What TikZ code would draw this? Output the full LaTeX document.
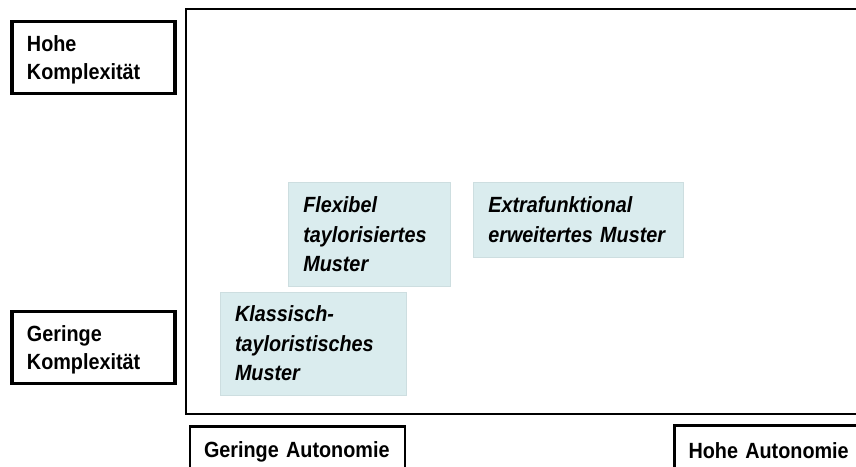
\documentclass[tikz,border=0pt]{standalone}
\usepackage{fontspec}
\setmainfont{Liberation Sans}[FakeStretch=0.9]
\definecolor{musterfill}{RGB}{218,236,238}
\newcommand\engraum{\spaceskip 4.5pt\relax}
\begin{document}
\begin{tikzpicture}[x=1pt,y=-1pt]

    \tikzset{
      kompl/.style={
        draw,
        line width=3.5pt,
        anchor=north west,
        outer sep=0pt,
        inner xsep=15pt,
        text width=133pt,
        minimum height=72pt,
        align=left,
        execute at begin node={\rule{0pt}{21pt}},
        font={\fontsize{22}{28}\selectfont\bfseries\engraum},
      },
      auto/.style={
        draw,
        line width=2.5pt,
        anchor=north west,
        outer sep=0pt,
        inner xsep=14pt,
        minimum height=50pt,
        align=left,
        font={\fontsize{22}{28}\selectfont\bfseries\engraum},
      },
      muster/.style={
        fill=musterfill,
        draw=musterfill!90!black!60!musterfill,
        anchor=north west,
        outer sep=0pt,
        inner xsep=15pt,
        align=left,
        font={\fontsize{22}{29.5}\selectfont\bfseries\itshape\engraum},
      },
    }
    \useasboundingbox (0,0) rectangle (856,466);
    \clip (0,0) rectangle (856,466);
	\draw[line width=2pt] (880,9) -- (186,9) -- (186,413.5) -- (880,413.5);
	\node[kompl] (hohekompl) at (12,21.3) {Hohe\\Komplexität};
	\node[kompl] (geringkompl) at (12,311.3) {Geringe\\Komplexität};
	\node[auto, text width=187pt] (geringauto) at (190,426.5) {Geringe Autonomie};
	\node[auto, text width=180pt] (hoheauto) at (674.5,425.5) {Hohe Autonomie};
	\node[muster, text width=132pt, minimum height=104pt] (flexibel) at (288.3,182.3) {Flexibel\\taylorisiertes\\Muster};
	\node[muster, text width=180pt, minimum height=74.4pt] (extrafunk) at (473.3,182.3) {Extrafunktional\\erweitertes Muster};
	\node[muster, text width=156pt, minimum height=103.3pt] (klassisch) at (220,291.7) {Klassisch-\\tayloristisches\\Muster};

\end{tikzpicture}
\end{document}
